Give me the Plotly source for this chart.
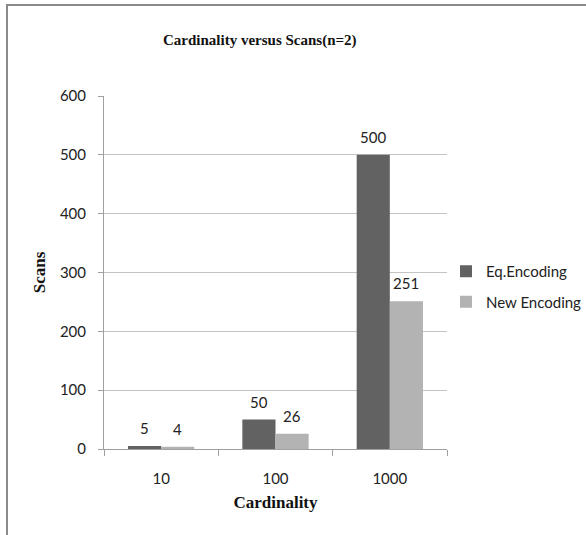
import plotly.graph_objects as go

# Scan counts by attribute cardinality for two encoding schemes (n=2)
categories = ["10", "100", "1000"]
eq_encoding = [5, 50, 500]
new_encoding = [4, 26, 251]
y_ticks = [0, 100, 200, 300, 400, 500, 600]

W, H = 586, 535
L, R, T, B = 104, 139, 96, 86
pw, ph = W - L - R, H - T - B

def px_x(x):
    return (x - L) / pw

def px_y(y):
    return (H - B - y) / ph

sans = "Lato, 'Open Sans', sans-serif"
serif_bold = "Liberation Serif, 'Times New Roman', serif"
label_font = dict(family=sans, size=15, color="#222222")

fig = go.Figure()
fig.add_trace(go.Bar(
    x=categories, y=eq_encoding, name="Eq.Encoding",
    marker=dict(color="#626262", line=dict(width=0)),
    legendgroup="a",
))
fig.add_trace(go.Bar(
    x=categories, y=new_encoding, name="New Encoding",
    marker=dict(color="#b3b3b3", line=dict(width=0)),
    legendgroup="b",
))

# value labels above each bar, placed from the same data
for series, side in ((eq_encoding, -1), (new_encoding, 1)):
    for idx, val in enumerate(series):
        fig.add_annotation(
            x=idx, y=val, xref="x", yref="y", text=str(val), showarrow=False,
            xshift=side * 16.5, yshift=7, yanchor="bottom", font=label_font,
        )

fig.update_layout(
    width=W, height=H,
    margin=dict(l=L, r=R, t=T, b=B, autoexpand=False),
    paper_bgcolor="white", plot_bgcolor="white",
    barmode="group", bargap=0.42, bargroupgap=0,
    showlegend=True,
    legend=dict(
        x=px_x(446), y=px_y(255), xanchor="left", yanchor="top",
        font=dict(family=sans, size=15, color="#222222"),
        tracegroupgap=8, itemwidth=30, bgcolor="rgba(0,0,0,0)",
    ),
    xaxis=dict(
        type="category", categoryorder="array", categoryarray=categories,
        range=[-0.5, 2.5],
        showgrid=False, showline=True, linecolor="#a0a0a0", linewidth=1,
        ticks="outside", tickson="boundaries", ticklen=6, tickcolor="#a0a0a0",
        tickfont=label_font, ticklabelstandoff=16,
        title=dict(text="<b>Cardinality</b>", font=dict(family=serif_bold, size=17, color="#111111"),
                   standoff=10),
    ),
    yaxis=dict(
        range=[0, 600], tickvals=y_ticks, showgrid=True, gridcolor="#c4c4c4", gridwidth=1,
        showline=True, linecolor="#a0a0a0", linewidth=1, zeroline=False,
        ticks="outside", ticklen=5, tickcolor="#a0a0a0",
        tickfont=label_font, ticklabelstandoff=9,
        title=dict(text="<b>Scans</b>", font=dict(family=serif_bold, size=17, color="#111111"),
                   standoff=9),
    ),
    font=dict(family=sans),
)

fig.add_annotation(
    text="<b>Cardinality versus Scans(n=2)</b>", xref="paper", yref="paper",
    x=px_x(260), y=px_y(40), xanchor="center", yanchor="middle", showarrow=False,
    font=dict(family=serif_bold, size=15, color="#111111"),
)

# frame lines along the top and left edge
fig.add_shape(type="line", xref="paper", yref="paper",
              x0=px_x(6), x1=px_x(586), y0=px_y(5), y1=px_y(5),
              line=dict(color="#8a8a8a", width=2))
fig.add_shape(type="line", xref="paper", yref="paper",
              x0=px_x(7), x1=px_x(7), y0=px_y(5), y1=px_y(535),
              line=dict(color="#8a8a8a", width=2))

fig.write_html("out.html")
